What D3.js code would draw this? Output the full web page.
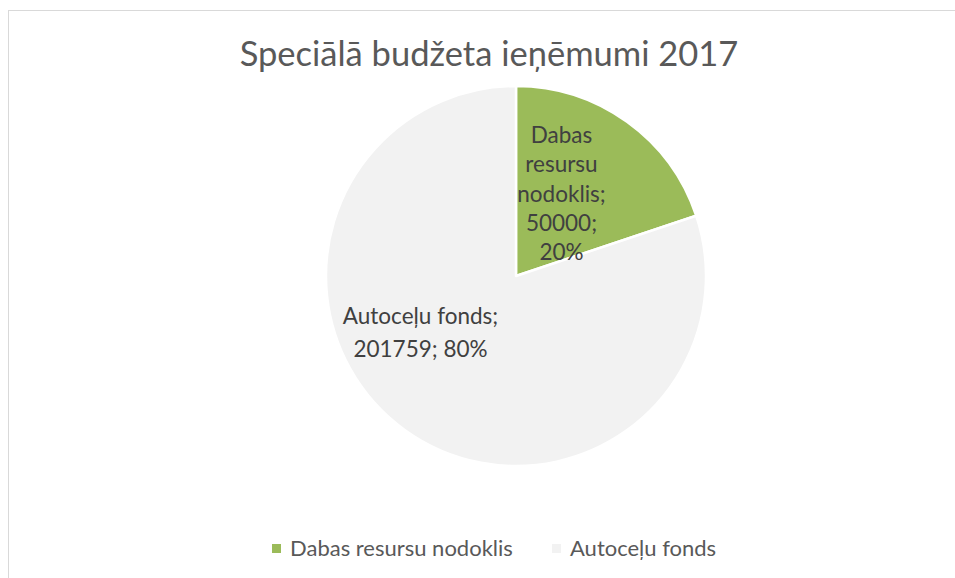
<!DOCTYPE html>
<html>
<head>
<meta charset="utf-8">
<script src="https://cdn.jsdelivr.net/npm/d3@7"></script>
<style>
  body { margin: 0; background: #fff; }
  svg { display: block; font-family: Lato, "Open Sans", sans-serif; }
</style>
</head>
<body>
<div id="chart"></div>
<script>
// chart data
let categories = ["Dabas resursu nodoklis", "Autoceļu fonds"];
let values = [50000, 201759];
let colors = ["#9bbb59", "#f2f2f2"];
let title_text = "Speciālā budžeta ieņēmumi 2017";

let width = 955, height = 578;

let svg = d3.select("#chart").append("svg")
  .attr("width", width)
  .attr("height", height);

// chart area border (runs off right and bottom)
svg.append("rect")
  .attr("x", 8.5).attr("y", 10.5)
  .attr("width", 960).attr("height", 600)
  .attr("fill", "#fff")
  .attr("stroke", "#d9d9d9")
  .attr("stroke-width", 1);

svg.append("text")
  .attr("x", 489).attr("y", 66)
  .attr("text-anchor", "middle")
  .attr("fill", "#595959")
  .style("font-size", "34.5px")
  .text(title_text);

let cx = 516, cy = 276, radius = 190;
let total = d3.sum(values);

let pie = d3.pie().sort(null).value(d => d.value);
let arc = d3.arc().innerRadius(0).outerRadius(radius);

let data = categories.map((c, i) => ({ name: c, value: values[i], color: colors[i] }));
let arcs = pie(data);

let g = svg.append("g").attr("transform", `translate(${cx},${cy})`);

g.selectAll("path.slice")
  .data(arcs)
  .enter().append("path")
  .attr("class", "slice")
  .attr("d", arc)
  .attr("fill", d => d.data.color)
  .attr("stroke", "#fff")
  .attr("stroke-width", 2.5)
  .attr("stroke-linejoin", "round");

// data labels: name; value; percent
let labelLines = [
  ["Dabas", "resursu", "nodoklis;"],
  ["Autoceļu fonds;"]
];
let labelPos = [[45.5, -133], [-95.5, 48]];
let lineH = [29.3, 33];

arcs.forEach(function(a, i) {
  let pct = Math.round(a.data.value / total * 100) + "%";
  let lines = labelLines[i].slice();
  if (i === 0) {
    lines.push(a.data.value + ";", pct);
  } else {
    lines.push(a.data.value + "; " + pct);
  }
  let t = g.append("text")
    .attr("text-anchor", "middle")
    .attr("fill", "#404040")
    .style("font-size", "22.5px");
  lines.forEach(function(l, j) {
    t.append("tspan")
      .attr("x", labelPos[i][0])
      .attr("y", labelPos[i][1] + j * lineH[i])
      .text(l);
  });
});

// legend
let legendX = [272, 552];
let legend = svg.append("g");
data.forEach(function(d, i) {
  legend.append("rect")
    .attr("x", legendX[i]).attr("y", 544)
    .attr("width", 9).attr("height", 9)
    .attr("fill", d.color);
  legend.append("text")
    .attr("x", legendX[i] + 18).attr("y", 556)
    .attr("fill", "#595959")
    .style("font-size", "22px")
    .text(d.name);
});
</script>
</body>
</html>
